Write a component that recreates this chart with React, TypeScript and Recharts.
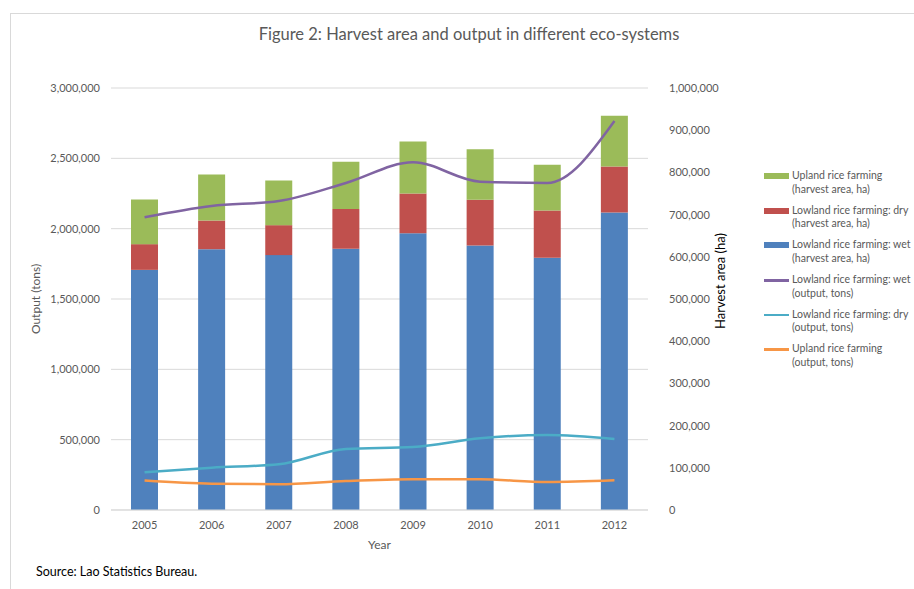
import React from "react";
import {
  ComposedChart,
  Bar,
  Line,
  XAxis,
  YAxis,
  CartesianGrid,
  Label,
} from "recharts";

const years = ["2005", "2006", "2007", "2008", "2009", "2010", "2011", "2012"];

// harvest area, ha (right axis)
const wetArea = [569000, 618000, 604000, 619000, 656000, 627000, 598000, 705000];
const dryArea = [61000, 68000, 71000, 94000, 94000, 108000, 112000, 109000];
const uplandArea = [106000, 109000, 106000, 112000, 123000, 120000, 108000, 120000];

// output, tons (left axis)
const wetOutput = [2081000, 2161000, 2197000, 2325000, 2472000, 2334000, 2325000, 2765000];
const dryOutput = [268000, 301000, 325000, 434000, 448000, 510000, 533000, 505000];
const uplandOutput = [209000, 187000, 183000, 206000, 218000, 218000, 199000, 211000];

const leftTicks = [0, 500000, 1000000, 1500000, 2000000, 2500000, 3000000];
const rightTicks = [0, 100000, 200000, 300000, 400000, 500000, 600000, 700000, 800000, 900000, 1000000];

const data = years.map((y, i) => ({
  year: y,
  wetArea: wetArea[i],
  dryArea: dryArea[i],
  uplandArea: uplandArea[i],
  wetOutput: wetOutput[i],
  dryOutput: dryOutput[i],
  uplandOutput: uplandOutput[i],
}));

const legendItems = [
  { kind: "bar", color: "#9bbb59", l1: "Upland rice farming", l2: "(harvest area, ha)" },
  { kind: "bar", color: "#c0504d", l1: "Lowland rice farming: dry", l2: "(harvest area, ha)" },
  { kind: "bar", color: "#4f81bd", l1: "Lowland rice farming: wet", l2: "(harvest area, ha)" },
  { kind: "line", color: "#8064a2", l1: "Lowland rice farming: wet", l2: "(output, tons)" },
  { kind: "line", color: "#4bacc6", l1: "Lowland rice farming: dry", l2: "(output, tons)" },
  { kind: "line", color: "#f79646", l1: "Upland rice farming", l2: "(output, tons)" },
];

const FONT = "Lato, 'Liberation Sans', sans-serif";
const GREY = "#595959";
const fmt = (v: number) => v.toLocaleString("en-US");

function LegendBox() {
  return (
    <div
      style={{
        position: "absolute",
        left: 763,
        top: 169,
        fontFamily: FONT,
        fontSize: 10.5,
        color: GREY,
        lineHeight: "13.6px",
      }}
    >
      {legendItems.map((it, i) => (
        <div key={i} style={{ position: "relative", height: 34.7, paddingLeft: 29, whiteSpace: "nowrap" }}>
          <div
            style={{
              position: "absolute",
              left: 1,
              top: it.kind === "bar" ? 4 : 6,
              width: 25,
              height: it.kind === "bar" ? 6 : 2.5,
              background: it.color,
            }}
          />
          <div>{it.l1}</div>
          <div>{it.l2}</div>
        </div>
      ))}
    </div>
  );
}

export default function App() {
  return (
    <div
      style={{
        position: "absolute",
        left: 0,
        top: 0,
        width: 914,
        height: 589,
        overflow: "hidden",
        background: "#fff",
        fontFamily: FONT,
      }}
    >
      <div
        style={{
          position: "absolute",
          left: 10,
          top: 13,
          width: 930,
          height: 600,
          borderTop: "1px solid #d9d9d9",
          borderLeft: "1px solid #d9d9d9",
        }}
      />
      <div
        style={{
          position: "absolute",
          left: 0,
          width: 938,
          top: 24,
          textAlign: "center",
          fontSize: 16.5,
          color: GREY,
        }}
      >
        Figure 2: Harvest area and output in different eco-systems
      </div>
      <ComposedChart
        width={914}
        height={589}
        data={data}
        margin={{ top: 88, right: 186, bottom: 49, left: 51 }}
        style={{ position: "absolute", left: 0, top: 0 }}
      >
        <CartesianGrid yAxisId="left" vertical={false} stroke="#d9d9d9" />
        <XAxis
          dataKey="year"
          axisLine={{ stroke: "#d9d9d9" }}
          tickLine={false}
          tickSize={0}
          tickMargin={11}
          height={30}
          tick={{ fill: GREY, fontSize: 11, fontFamily: FONT }}
        >
          <Label
            content={({ viewBox }: any) => (
              <text
                x={viewBox.x + viewBox.width / 2}
                y={549}
                textAnchor="middle"
                fill={GREY}
                fontSize={12}
                fontFamily={FONT}
              >
                Year
              </text>
            )}
          />
        </XAxis>
        <YAxis
          yAxisId="left"
          orientation="left"
          width={60}
          domain={[0, 3000000]}
          ticks={leftTicks}
          tickFormatter={fmt}
          axisLine={false}
          tickLine={false}
          tickSize={0}
          tickMargin={11}
          tick={{ fill: GREY, fontSize: 11, fontFamily: FONT }}
        >
          <Label
            content={({ viewBox }: any) => (
              <text
                x={35}
                y={viewBox.y + viewBox.height / 2}
                transform={`rotate(-90 35 ${viewBox.y + viewBox.height / 2})`}
                textAnchor="middle"
                dominantBaseline="central"
                fill={GREY}
                fontSize={12}
                fontFamily={FONT}
              >
                Output (tons)
              </text>
            )}
          />
        </YAxis>
        <YAxis
          yAxisId="right"
          orientation="right"
          width={80}
          domain={[0, 1000000]}
          ticks={rightTicks}
          tickFormatter={fmt}
          axisLine={false}
          tickLine={false}
          tickSize={0}
          tickMargin={21}
          tick={{ fill: GREY, fontSize: 11, fontFamily: FONT, textAnchor: "start" }}
        >
          <Label
            content={() => (
              <text
                x={720}
                y={281}
                transform="rotate(-90 720 281)"
                textAnchor="middle"
                dominantBaseline="central"
                fill="#000"
                fontSize={13}
                fontFamily={FONT}
              >
                Harvest area (ha)
              </text>
            )}
          />
        </YAxis>
        <Bar yAxisId="right" dataKey="wetArea" stackId="a" fill="#4f81bd" barSize={27} isAnimationActive={false} />
        <Bar yAxisId="right" dataKey="dryArea" stackId="a" fill="#c0504d" barSize={27} isAnimationActive={false} />
        <Bar yAxisId="right" dataKey="uplandArea" stackId="a" fill="#9bbb59" barSize={27} isAnimationActive={false} />
        <Line yAxisId="left" type="monotone" dataKey="wetOutput" stroke="#8064a2" strokeWidth={2.5} dot={false} isAnimationActive={false} />
        <Line yAxisId="left" type="monotone" dataKey="dryOutput" stroke="#4bacc6" strokeWidth={2.5} dot={false} isAnimationActive={false} />
        <Line yAxisId="left" type="monotone" dataKey="uplandOutput" stroke="#f79646" strokeWidth={2.5} dot={false} isAnimationActive={false} />
      </ComposedChart>
      <LegendBox />
      <div
        style={{
          position: "absolute",
          left: 36,
          top: 564,
          fontSize: 12.5,
          color: "#000",
        }}
      >
        Source: Lao Statistics Bureau.
      </div>
    </div>
  );
}
